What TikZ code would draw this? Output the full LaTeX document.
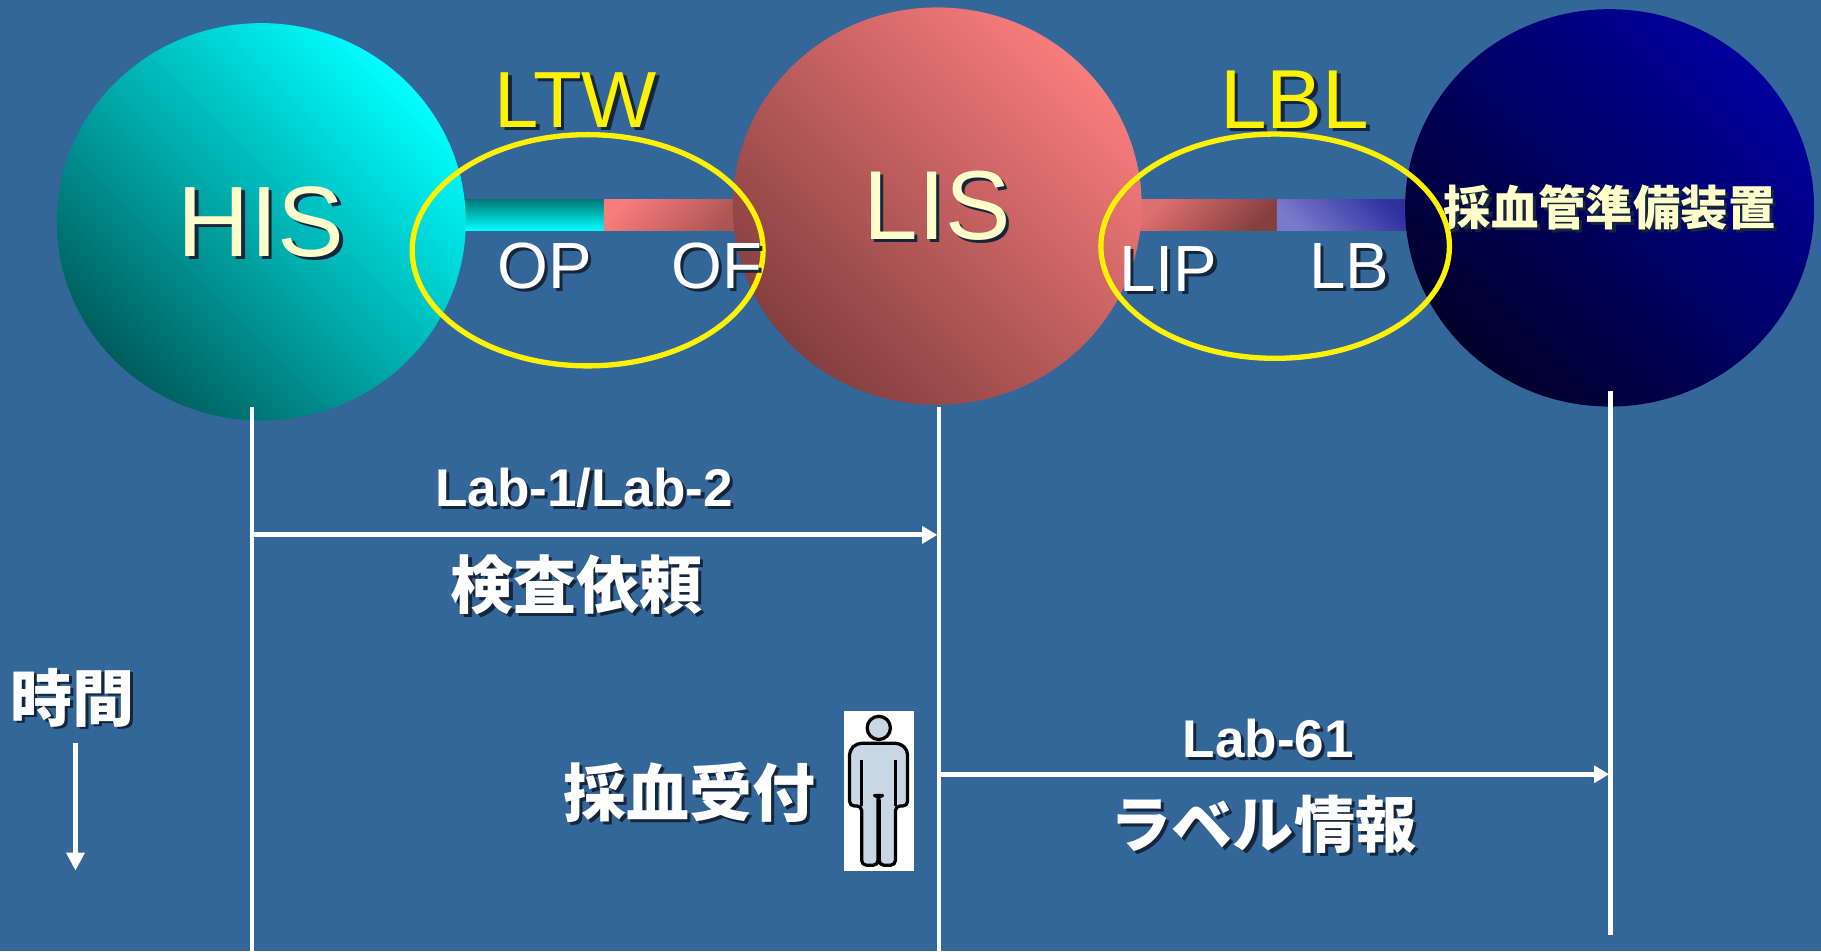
\documentclass[tikz,border=0pt]{standalone}
\usepackage{fontspec}
\setmainfont{Liberation Sans}
\newfontfamily\jpfont{Noto Sans CJK JP}
\usetikzlibrary{
positioning,
shapes.geometric,
arrows.meta,
}
\definecolor{bg}{HTML}{336699}
\definecolor{cream}{HTML}{FFFFCC}
\definecolor{textshadow}{HTML}{15253A}
\definecolor{hislight}{HTML}{00FFFF}
\definecolor{hismid}{HTML}{00CCCC}
\definecolor{hisdark}{HTML}{005E5E}
\definecolor{lislight}{HTML}{F87C7C}
\definecolor{lismid}{HTML}{CC6464}
\definecolor{lisdark}{HTML}{843F3F}
\definecolor{prelight}{HTML}{00009C}
\definecolor{premid}{HTML}{000068}
\definecolor{predark}{HTML}{00002A}
\definecolor{barteal}{HTML}{007878}
\definecolor{barblue}{HTML}{7A7ACC}
\definecolor{bardeep}{HTML}{3030A0}
\definecolor{figfill}{HTML}{C9D6E3}
\newcommand\shad[1]{\rlap{\smash{\kern0.8pt\raisebox{-0.7pt}{\color{textshadow}#1}}}#1}
\tikzset{
every node/.style={align=center, inner sep=0pt},
sphere/.style={ellipse, minimum width=3.52cm, minimum height=3.42cm},
his colors/.style={top color=hislight, middle color=hismid, bottom color=hisdark, shading angle=-45},
lis colors/.style={top color=lislight, middle color=lismid, bottom color=lisdark, shading angle=-45},
prep colors/.style={top color=prelight, middle color=premid, bottom color=predark, shading angle=-45},
ring/.style={ellipse, draw=yellow, line width=1.3pt},
bar/.style={rectangle, minimum height=0.27cm, outer sep=0pt},
title/.style={text=cream, font=\fontsize{24}{25}\selectfont},
tag/.style={text=yellow, font=\fontsize{19.5}{20}\selectfont},
side/.style={text=white, font=\fontsize{16}{17}\selectfont},
msgid/.style={text=white, font=\bfseries\fontsize{13}{14}\selectfont},
jp/.style={text=white, font=\jpfont\bfseries\fontsize{15.4}{16}\selectfont},
lifeline/.style={draw=white, line width=1.2pt},
msg/.style={draw=white, line width=1.2pt, -{Triangle[length=0.13cm, width=0.145cm]}, shorten >=0.4pt},
figure/.style={draw=black, line width=0.8pt, line join=round},
}

\begin{document}
\begin{tikzpicture}[x=0.01cm, y=-0.01cm]
    \useasboundingbox (0,0) rectangle (1568,819);
    \fill[bg] (0,0) rectangle (1568,819);

    % interface bars between the systems
    \node[bar, minimum width=1.26cm, top color=barteal, bottom color=hislight] (opbar) at (457,185) {};
    \node[bar, minimum width=1.16cm, top color=lislight, bottom color=lismid!85!black, shading angle=45, right=0pt of opbar] (ofbar) {};
    \node[bar, minimum width=1.21cm, top color=lislight!90!black, bottom color=lisdark, shading angle=45] (lipbar) at (1039,185) {};
    \node[bar, minimum width=1.14cm, top color=bardeep, bottom color=barblue, shading angle=-45, right=0pt of lipbar] (lbbar) {};

    % systems
    \node[sphere, his colors, title, font=\fontsize{24.5}{25}\selectfont] (his) at (225,191) {\shad{HIS}};
    \node[sphere, lis colors, title] (lis) at (807,177.5) {\shad{LIS}};
    \node[sphere, prep colors, title, font=\jpfont\bfseries\fontsize{11.6}{12}\selectfont] (prep) at (1386,179) {\makebox[0pt]{\shad{採血管準備装置}}};

    % profiles
    \node[ring, minimum width=3.02cm, minimum height=1.99cm] (ltwring) at (506,215.5) {};
    \node[ring, minimum width=3.0cm, minimum height=1.93cm] (lblring) at (1098,212) {};
    \node[tag] (ltw) at (496,86) {\shad{LTW}};
    \node[tag, font=\fontsize{20.5}{21}\selectfont] (lbl) at (1115,86) {\shad{LBL}};
    \node[side] (op) at (469,229) {\shad{OP}};
    \node[side] (of) at (617,229) {\shad{OF}};
    \node[side] (lip) at (1006,231.5) {\shad{LIP}};
    \node[side] (lb) at (1162,229) {\shad{LB}};

    % lifelines
    \coordinate (his top) at (217,350.5);
    \coordinate (his end) at (217,819);
    \coordinate (lis top) at (808.5,350.5);
    \coordinate (lis end) at (808.5,819);
    \coordinate (prep top) at (1387,337);
    \coordinate (prep end) at (1387,805);
    \draw[lifeline] (his top) -- (his end);
    \draw[lifeline] (lis top) -- (lis end);
    \draw[lifeline] (prep top) -- (prep end);

    % messages
    \coordinate (order) at (0,460.6);
    \coordinate (label) at (0,666.7);
    \draw[msg] (his top |- order) -- (lis top |- order);
    \draw[msg] (lis top |- label) -- (prep top |- label);
    \node[msgid] (lab12) at (503,420) {\shad{Lab-1/Lab-2}};
    \node[jp] (request) at (496.5,503.7) {\shad{検査依頼}};
    \node[msgid] (lab61) at (1092,636) {\shad{Lab-61}};
    \node[jp, font=\jpfont\bfseries\fontsize{15}{16}\selectfont] (labelinfo) at (1088,710) {\shad{ラベル情報}};

    % time axis
    \node[jp, font=\jpfont\bfseries\fontsize{15.2}{16}\selectfont] (time) at (62.5,600.6) {\shad{時間}};
    \coordinate (time start) at (65,639.5);
    \coordinate (time end) at (65,749.7);
    \draw[msg, -{Triangle[length=0.155cm, width=0.152cm]}, shorten >=0pt] (time start) -- (time end);

    % reception
    \node[jp] (reception) at (593.4,682.4) {\shad{採血受付}};
    \node[fill=white, minimum width=0.6cm, minimum height=1.38cm] (person) at (757,681) {};
    \draw[figure, fill=figfill, rounded corners=0.04cm] (731.5,694) -- (731.5,646) -- (738,640) -- (775,640) -- (781.5,646) -- (781.5,694) -- (771,694) -- (771,745) -- (757,745) -- (757,685) -- (756,685) -- (756,745) -- (742,745) -- (742,694) -- cycle;
    \draw[figure] (742,654) -- (742,694);
    \draw[figure] (771,654) -- (771,694);
    \draw[figure, fill=figfill] (756.7,626.8) circle[radius=0.1cm];
\end{tikzpicture}
\end{document}
